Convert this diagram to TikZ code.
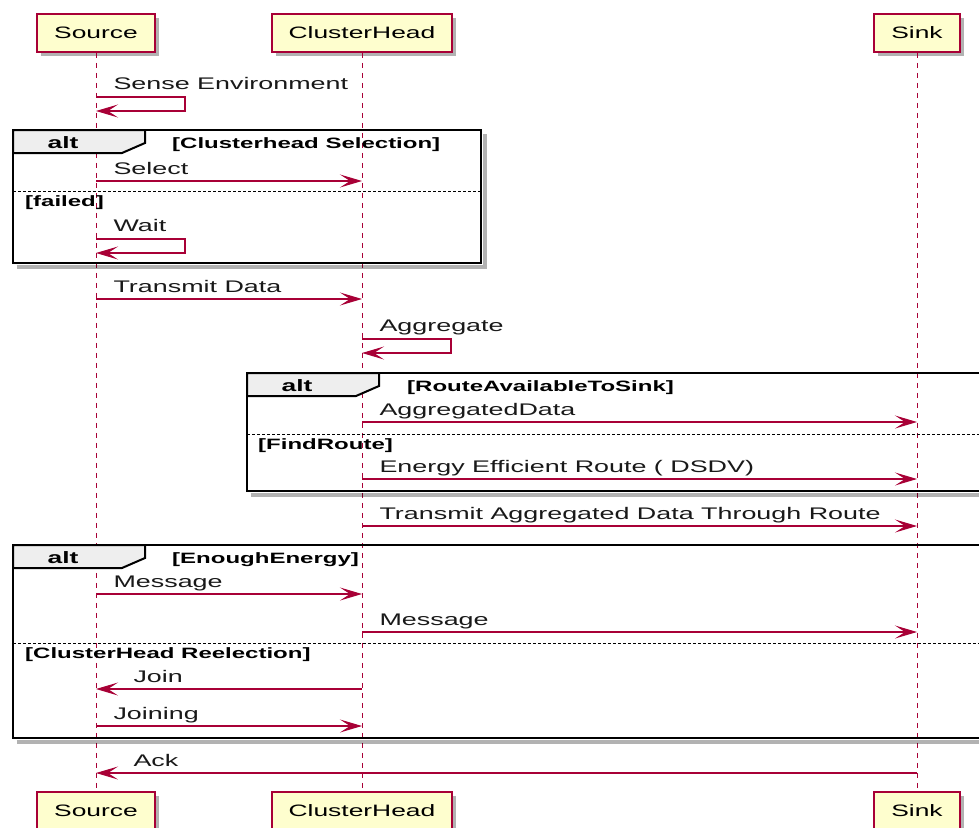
\documentclass[tikz,border=0pt]{standalone}
\usepackage{fontspec}
\usepackage{xcolor}
\usepackage{tikz}
\usetikzlibrary{arrows.meta,shadows}
\newfontfamily\umlfont{Liberation Sans}[FakeStretch=1.6]
\definecolor{umlred}{HTML}{A80036}
\definecolor{umlfill}{HTML}{FEFECE}
\definecolor{umltab}{HTML}{EEEEEE}
\tikzset{
  actor/.style={rectangle, draw=umlred, fill=umlfill, line width=1.8pt,
                minimum height=38pt, inner xsep=17pt, inner ysep=0pt,
                font=\umlfont\fontsize{16.5}{19}\selectfont,
                drop shadow={shadow xshift=4pt, shadow yshift=-4pt,
                             fill=black, opacity=0.3}},
  lifeline/.style={umlred, line width=1pt, dash pattern=on 5pt off 5pt},
  msg/.style={umlred, line width=1.1pt,
              -{Stealth[length=22pt, width=13pt, inset=10pt]}},
  lbl/.style={font=\umlfont\fontsize{16.8}{19}\selectfont, inner sep=0pt,
              text=black!90},
  lblR/.style={lbl, pos=0, anchor=base west, xshift=17pt, yshift=6.5pt},
  lblL/.style={lbl, pos=1, anchor=base west, xshift=37pt, yshift=6.5pt},
  lblS/.style={lbl, anchor=base west, xshift=17pt, yshift=7.5pt},
  frame/.style={draw=black, line width=2.8pt},
  frameshadow/.style={draw=black, line width=4pt, opacity=0.3,
                      xshift=3.5pt, yshift=-3.5pt},
  tab/.style={fill=umltab, draw=black, line width=2pt},
  altlbl/.style={font=\umlfont\bfseries\fontsize{16.5}{19}\selectfont,
                 inner sep=0pt, anchor=base},
  guard/.style={font=\umlfont\bfseries\fontsize{15}{18}\selectfont,
                inner sep=0pt, anchor=base west},
  elseline/.style={draw=black, line width=0.8pt, dash pattern=on 3pt off 2pt}
}

\begin{document}
\begin{tikzpicture}[x=1pt, y=-1pt]
  \path[use as bounding box, clip] (0,0) rectangle (979,827);

  % participants
  \node[actor] (srcTop) at (96,33) {Source};
  \node[actor] (chTop) at (362,33) {ClusterHead};
  \node[actor] (snkTop) at (917,33) {Sink};
  \node[actor] (srcBot) at (96,811) {Source};
  \node[actor] (chBot) at (362,811) {ClusterHead};
  \node[actor] (snkBot) at (917,811) {Sink};

  \draw[lifeline] (srcTop) -- (srcBot);
  \draw[lifeline] (chTop) -- (chBot);
  \draw[lifeline] (snkTop) -- (snkBot);

  % alt 1
  \draw[frameshadow] (13,263) -- (481,263) -- (481,130);
  \draw[frame] (13,130) rectangle (481,263);
  \filldraw[tab] (13,130) -- (145,130) -- (145,143) -- (122,153) -- (13,153) -- cycle;
  \node[altlbl] (alt1) at (63,148) {alt};
  \node[guard] (g1) at (172,148) {[Clusterhead Selection]};
  \draw[elseline] (13,191) -- (481,191);
  \node[guard] (e1) at (25,206) {[failed]};

  % alt 2
  \draw[frameshadow] (247,491) -- (995,491);
  \draw[frame] (247,373) rectangle (995,491);
  \filldraw[tab] (247,373) -- (379,373) -- (379,386) -- (356,396) -- (247,396) -- cycle;
  \node[altlbl] (alt2) at (297,391) {alt};
  \node[guard] (g2) at (407,391) {[RouteAvailableToSink]};
  \draw[elseline] (247,434) -- (995,434);
  \node[guard] (e2) at (258,449) {[FindRoute]};

  % alt 3
  \draw[frameshadow] (13,738) -- (995,738);
  \draw[frame] (13,545) rectangle (995,738);
  \filldraw[tab] (13,545) -- (145,545) -- (145,558) -- (122,568) -- (13,568) -- cycle;
  \node[altlbl] (alt3) at (63,563) {alt};
  \node[guard] (g3) at (172,563) {[EnoughEnergy]};
  \draw[elseline] (13,643) -- (995,643);
  \node[guard] (e3) at (25,658) {[ClusterHead Reelection]};

  % messages
  \draw[msg] (srcTop |- 0,97) node[lblS] {Sense Environment}
    -- ++(89,0) -- ++(0,14) -- (srcTop |- 0,111);
  \draw[msg] (srcTop |- 0,181) -- (chTop |- 0,181) node[lblR] {Select};
  \draw[msg] (srcTop |- 0,239) node[lblS] {Wait}
    -- ++(89,0) -- ++(0,14) -- (srcTop |- 0,253);
  \draw[msg] (srcTop |- 0,299) -- (chTop |- 0,299) node[lblR] {Transmit Data};
  \draw[msg] (chTop |- 0,339) node[lblS] {Aggregate}
    -- ++(89,0) -- ++(0,14) -- (chTop |- 0,353);
  \draw[msg] (chTop |- 0,422) -- (snkTop |- 0,422) node[lblR] {AggregatedData};
  \draw[msg] (chTop |- 0,479) -- (snkTop |- 0,479) node[lblR] {Energy Efficient Route ( DSDV)};
  \draw[msg] (chTop |- 0,526) -- (snkTop |- 0,526) node[lblR] {Transmit Aggregated Data Through Route};
  \draw[msg] (srcTop |- 0,594) -- (chTop |- 0,594) node[lblR] {Message};
  \draw[msg] (chTop |- 0,632) -- (snkTop |- 0,632) node[lblR] {Message};
  \draw[msg] (chTop |- 0,689) -- (srcTop |- 0,689) node[lblL] {Join};
  \draw[msg] (srcTop |- 0,726) -- (chTop |- 0,726) node[lblR] {Joining};
  \draw[msg] (snkTop |- 0,773) -- (srcTop |- 0,773) node[lblL] {Ack};
\end{tikzpicture}
\end{document}
